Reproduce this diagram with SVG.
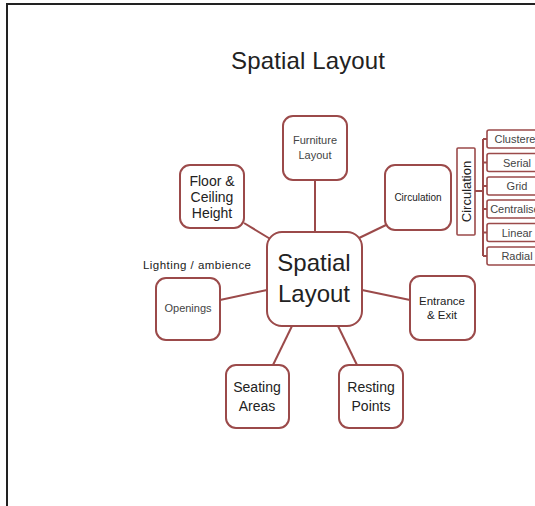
<svg xmlns="http://www.w3.org/2000/svg" width="535" height="506" viewBox="0 0 535 506">
<style>
.box{fill:#fff;stroke:#9b4a4a;stroke-width:2}
.sm{fill:#fff;stroke:#9b4a4a;stroke-width:1.6}
.ln{stroke:#9b4a4a;stroke-width:2;fill:none}
text{font-family:"Liberation Sans",Arial,sans-serif;fill:#222;text-anchor:middle}
.t11{font-size:11px;fill:#444}
.t14{font-size:14px}
.t12{font-size:11.5px}
</style>
<rect x="0" y="0" width="535" height="506" fill="#fff"/>
<rect x="7" y="4" width="540" height="520" fill="none" stroke="#222" stroke-width="2"/>
<text x="308" y="69" font-size="24" textLength="154">Spatial  Layout</text>
<g id="connectors">
<line class="ln" x1="315" y1="180" x2="315" y2="232"/>
<line class="ln" x1="244" y1="223" x2="272" y2="240"/>
<line class="ln" x1="386" y1="225" x2="357" y2="239"/>
<line class="ln" x1="220" y1="300" x2="267" y2="290"/>
<line class="ln" x1="362" y1="290" x2="410" y2="300"/>
<line class="ln" x1="292" y1="326" x2="273" y2="365"/>
<line class="ln" x1="338" y1="326" x2="357" y2="365"/>
<path class="ln" stroke-width="1.6" d="M475 191H483M483 139V256M483 139H487M483 162.5H487M483 186H487M483 209H487M483 232.5H487M483 256H487"/>
</g>
<g id="center"><rect class="box" x="267" y="232" width="95" height="94" rx="15"/>
<text x="314" y="271" font-size="24">Spatial</text><text x="314" y="302" font-size="24">Layout</text></g>
<g id="furniture"><rect class="box" x="283" y="116" width="64" height="64" rx="10"/>
<text class="t11" x="315" y="144">Furniture</text><text class="t11" x="315" y="159">Layout</text></g>
<g id="floor"><rect class="box" x="180" y="165" width="64" height="63" rx="10"/>
<text class="t14" x="212" y="186">Floor &amp;</text><text class="t14" x="212" y="202">Ceiling</text><text class="t14" x="212" y="218">Height</text></g>
<g id="circulation"><rect class="box" x="385" y="165" width="66" height="65" rx="10"/>
<text x="418" y="201" font-size="10" fill="#444">Circulation</text></g>
<g id="openings"><rect class="box" x="156" y="278" width="64" height="62" rx="10"/>
<text class="t11" x="188" y="312">Openings</text></g>
<g id="lighting"><text x="197" y="269" font-size="11.5" textLength="108">Lighting / ambience</text></g>
<g id="entrance"><rect class="box" x="410" y="276" width="65" height="64" rx="10"/>
<text class="t12" x="442" y="305" fill="#444">Entrance</text><text class="t12" x="442" y="319" fill="#444">&amp; Exit</text></g>
<g id="seating"><rect class="box" x="226" y="365" width="63" height="63" rx="10"/>
<text class="t14" x="257" y="392">Seating</text><text class="t14" x="257" y="411">Areas</text></g>
<g id="resting"><rect class="box" x="339" y="365" width="64" height="63" rx="10"/>
<text class="t14" x="371" y="392">Resting</text><text class="t14" x="371" y="411">Points</text></g>
<g id="circ-label"><rect class="sm" x="457" y="148" width="18" height="87" rx="1"/>
<text x="0" y="0" font-size="13" transform="translate(470.5 191.5) rotate(-90)">Circulation</text></g>
<g id="clustered"><rect class="sm" x="487" y="130" width="62" height="18" rx="2"/><text class="t11" x="518" y="143">Clustered</text></g>
<g id="serial"><rect class="sm" x="487" y="153.5" width="62" height="18" rx="2"/><text class="t11" x="517" y="166.5">Serial</text></g>
<g id="grid"><rect class="sm" x="487" y="177" width="62" height="18" rx="2"/><text class="t11" x="517" y="190">Grid</text></g>
<g id="centralised"><rect class="sm" x="487" y="200" width="62" height="18" rx="2"/><text class="t11" x="518" y="213">Centralised</text></g>
<g id="linear"><rect class="sm" x="487" y="223.5" width="62" height="18" rx="2"/><text class="t11" x="517" y="236.5">Linear</text></g>
<g id="radial"><rect class="sm" x="487" y="247" width="62" height="18" rx="2"/><text class="t11" x="517" y="260">Radial</text></g>
</svg>
